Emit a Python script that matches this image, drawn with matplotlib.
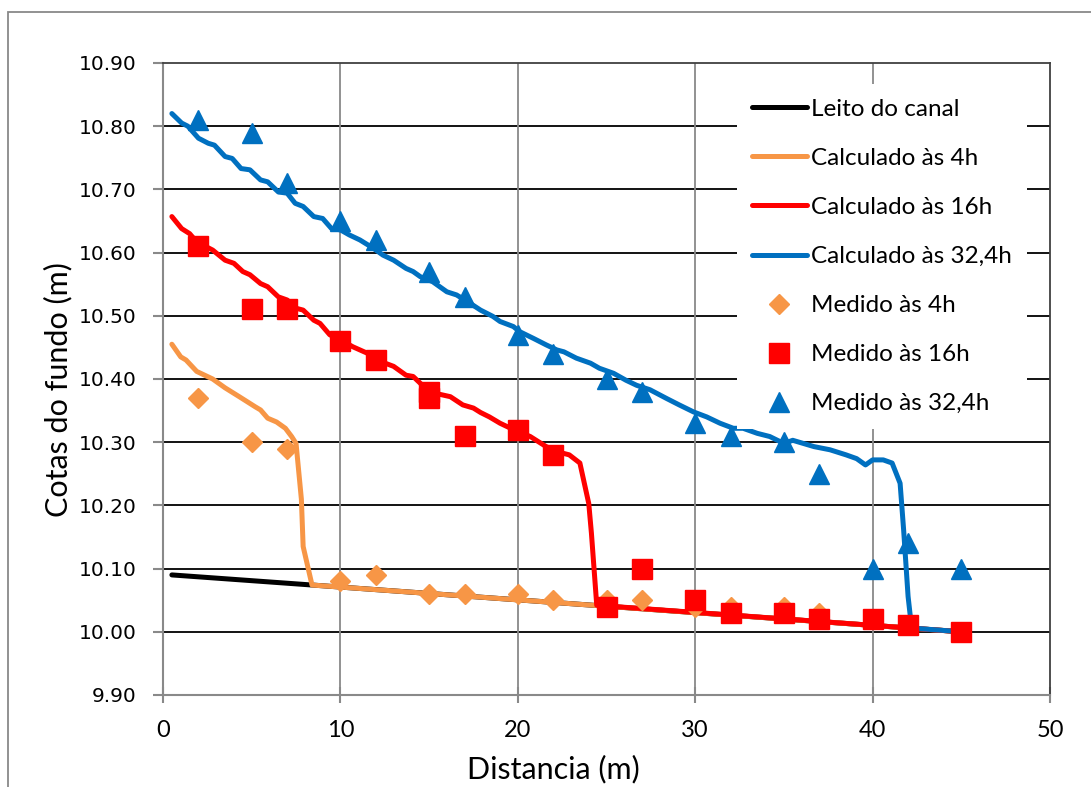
import matplotlib
matplotlib.use("Agg")
import matplotlib.pyplot as plt
from matplotlib.patches import Rectangle

# ---------------- data ----------------
bed_x = [0.5, 45]
bed_y = [10.09, 10.00]

calc4_x = [0.5, 1.0, 1.3, 1.9, 2.8, 3.5, 4.3, 5.2, 5.5, 5.9, 6.4, 6.9, 7.25, 7.5, 7.8, 7.9, 8.4, 45]
calc4_y = [10.455, 10.435, 10.43, 10.412, 10.40, 10.386, 10.372, 10.356, 10.351, 10.338, 10.332,
           10.322, 10.309, 10.298, 10.21, 10.135, 10.074, 10.00]

calc16_x = [0.5, 1.05, 1.5, 1.9, 2.8, 3.5, 4.0, 4.5, 4.9, 5.5, 5.9, 6.5, 7.0, 7.5, 7.9, 8.5, 8.85,
            9.4, 10.0, 10.7, 11.5, 12.05, 13.0, 13.7, 14.1, 14.7, 15.4, 16.2, 16.9, 17.5, 17.9,
            18.4, 19.0, 19.6, 20.7, 21.6, 22.2, 22.9, 23.5, 24.0, 24.15, 24.45, 45]
calc16_y = [10.657, 10.638, 10.63, 10.617, 10.604, 10.588, 10.583, 10.570, 10.565, 10.551, 10.546,
            10.53, 10.525, 10.512, 10.509, 10.493, 10.488, 10.47, 10.462, 10.451, 10.441, 10.43,
            10.42, 10.406, 10.404, 10.388, 10.377, 10.372, 10.359, 10.354, 10.347, 10.34, 10.33,
            10.322, 10.309, 10.293, 10.285, 10.28, 10.267, 10.203, 10.156, 10.042, 10.00]

calc32_x = [0.5, 1.05, 1.4, 2.0, 2.55, 2.9, 3.5, 3.9, 4.4, 4.9, 5.5, 5.9, 6.5, 7.0, 7.45, 7.9, 8.5,
            9.0, 9.5, 10.0, 10.5, 11.1, 11.85, 12.4, 13.0, 13.7, 14.1, 14.5, 15.2, 16.0, 16.55,
            17.3, 17.9, 18.6, 19.0, 19.75, 20.1, 20.9, 21.6, 22.2, 22.6, 23.3, 24.1, 24.6, 25.4,
            26.1, 26.7, 27.45, 28.4, 29.1, 29.9, 30.65, 31.4, 32.15, 32.7, 33.5, 34.2, 35.0, 35.5,
            36.7, 37.6, 38.5, 39.1, 39.6, 40.0, 40.6, 41.1, 41.55, 41.75, 42.0, 42.2, 45]
calc32_y = [10.82, 10.805, 10.80, 10.781, 10.773, 10.77, 10.752, 10.749, 10.733, 10.731, 10.715,
            10.712, 10.696, 10.694, 10.678, 10.673, 10.657, 10.654, 10.638, 10.636, 10.628, 10.62,
            10.607, 10.596, 10.588, 10.575, 10.57, 10.562, 10.554, 10.538, 10.533, 10.52, 10.509,
            10.499, 10.491, 10.483, 10.475, 10.464, 10.454, 10.446, 10.443, 10.433, 10.425, 10.417,
            10.409, 10.398, 10.39, 10.383, 10.369, 10.359, 10.348, 10.34, 10.33, 10.322, 10.322,
            10.314, 10.309, 10.298, 10.303, 10.293, 10.288, 10.28, 10.274, 10.264, 10.272, 10.272,
            10.267, 10.235, 10.161, 10.056, 10.006, 10.00]

med4_x = [2, 5, 7, 10, 12, 15, 17, 20, 22, 25, 27, 30, 32, 35, 37, 40, 42, 45]
med4_y = [10.37, 10.30, 10.29, 10.08, 10.09, 10.06, 10.06, 10.06, 10.05, 10.05, 10.05, 10.04,
          10.04, 10.04, 10.03, 10.02, 10.01, 10.00]

med16_x = [2, 5, 7, 10, 12, 15, 15, 17, 20, 22, 25, 27, 30, 32, 35, 37, 40, 42, 45]
med16_y = [10.61, 10.51, 10.51, 10.46, 10.43, 10.38, 10.37, 10.31, 10.32, 10.28, 10.04, 10.10,
           10.05, 10.03, 10.03, 10.02, 10.02, 10.01, 10.00]

med32_x = [2, 5, 7, 10, 12, 15, 17, 20, 22, 25, 27, 30, 32, 35, 37, 40, 42, 45]
med32_y = [10.81, 10.79, 10.71, 10.65, 10.62, 10.57, 10.53, 10.47, 10.44, 10.40, 10.38, 10.33,
           10.31, 10.30, 10.25, 10.10, 10.14, 10.10]

labels = ["Leito do canal", "Calculado às 4h", "Calculado às 16h", "Calculado às 32,4h",
          "Medido às 4h", "Medido às 16h", "Medido às 32,4h"]
x_ticks = [0, 10, 20, 30, 40, 50]
y_ticks = [9.90, 10.00, 10.10, 10.20, 10.30, 10.40, 10.50, 10.60, 10.70, 10.80, 10.90]

# ---------------- styling ----------------
ORANGE = "#F79646"
RED = "#FF0000"
BLUE = "#0070C0"
TXT = ["Lato", "DejaVu Sans"]

W, H = 1091, 787
fig = plt.figure(figsize=(W / 100, H / 100), dpi=100)
ax = fig.add_axes([163 / W, 1 - 695 / H, (1050 - 163) / W, (695 - 63) / H])

lw = 3.6
ax.plot(bed_x, bed_y, color="black", lw=lw, solid_capstyle="round", label=labels[0], zorder=3)
ax.plot(calc4_x, calc4_y, color=ORANGE, lw=lw, solid_capstyle="round", label=labels[1], zorder=3)
ax.plot(calc16_x, calc16_y, color=RED, lw=lw, solid_capstyle="round", label=labels[2], zorder=3)
ax.plot(calc32_x, calc32_y, color=BLUE, lw=lw, solid_capstyle="round", label=labels[3], zorder=3)
ax.plot(med4_x, med4_y, ls="none", marker="D", ms=10, color=ORANGE, mec=ORANGE, label=labels[4], zorder=4)
ax.plot(med16_x, med16_y, ls="none", marker="s", ms=14, color=RED, mec=RED, label=labels[5], zorder=4)
ax.plot(med32_x, med32_y, ls="none", marker="^", ms=15, color=BLUE, mec=BLUE, label=labels[6], zorder=4)

ax.set_xlim(0, 50)
ax.set_ylim(9.90, 10.90)
ax.set_xticks(x_ticks)
ax.set_yticks(y_ticks)
ax.set_xticklabels([str(v) for v in x_ticks], family=TXT, fontsize=17)
ax.set_yticklabels([f"{v:.2f}" for v in y_ticks], family="DejaVu Sans", fontsize=14.5)

# grid
for yv in y_ticks[1:-1]:
    ax.axhline(yv, color="black", lw=1.3, zorder=1)
for xv in x_ticks[1:-1]:
    ax.axvline(xv, color="#898989", lw=1.3, zorder=1)

for side in ["top", "right"]:
    ax.spines[side].set_color("#404040")
    ax.spines[side].set_linewidth(1.3)
for side in ["left", "bottom"]:
    ax.spines[side].set_color("#898989")
    ax.spines[side].set_linewidth(1.5)

ax.tick_params(axis="x", direction="inout", length=12, width=1.5, color="#898989", pad=12)
ax.tick_params(axis="y", direction="out", length=7, width=1.5, color="#898989", pad=12)

fig.text(553 / W, 1 - 769 / H, "Distancia (m)", family=TXT, fontsize=22, ha="center", va="center")
fig.text(58 / W, 1 - 390 / H, "Cotas do fundo (m)", family=TXT, fontsize=22, ha="center",
         va="center", rotation=90)

leg = ax.legend(loc="upper right", bbox_to_anchor=(1.0 - 11 / 887, 1.0 - 9 / 632),
                frameon=True, framealpha=1, facecolor="white", edgecolor="none",
                prop={"family": TXT, "size": 17.5}, handlelength=2.26, handletextpad=0.2,
                labelspacing=1.155, borderpad=0.6, numpoints=1, fancybox=False)
leg.get_frame().set_linewidth(0)
leg.set_zorder(5)

# outer chart border
fig.patches.append(Rectangle((8 / W, -0.05), 1.2, 1 - 12 / H + 0.05, transform=fig.transFigure,
                             fill=False, edgecolor="#898989", lw=1.3))

fig.savefig("out.png", dpi=100)
